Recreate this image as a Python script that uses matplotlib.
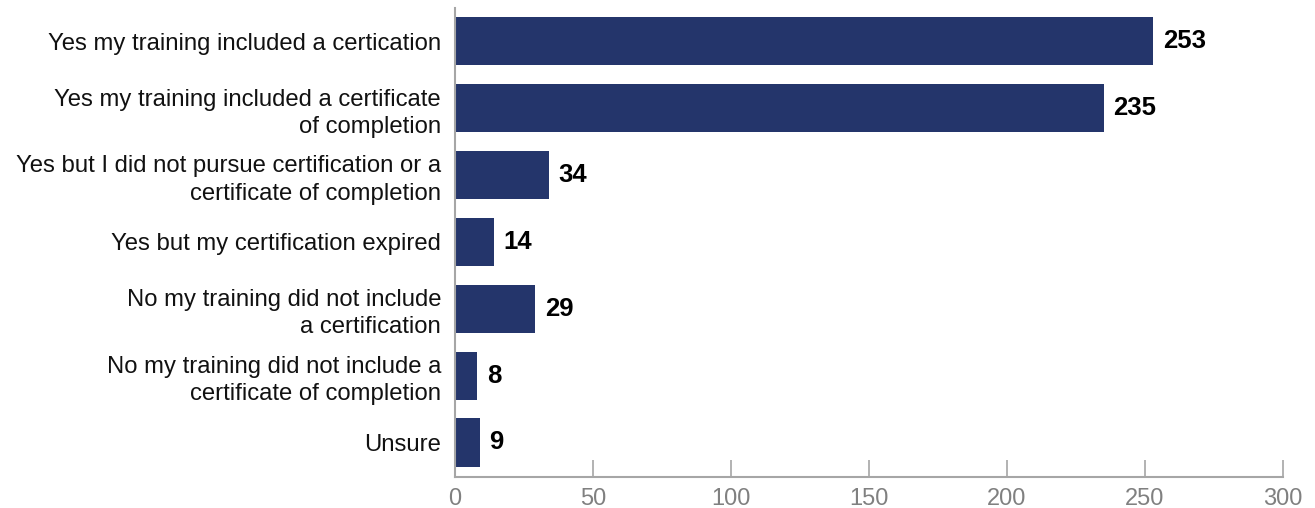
import matplotlib.pyplot as plt

categories = [
    "Yes my training included a certication",
    "Yes my training included a certificate\nof completion",
    "Yes but I did not pursue certification or a\ncertificate of completion",
    "Yes but my certification expired",
    "No my training did not include\na certification",
    "No my training did not include a\ncertificate of completion",
    "Unsure",
]
counts = [253, 235, 34, 14, 29, 8, 9]
x_ticks = [0, 50, 100, 150, 200, 250, 300]

plt.rcParams["font.family"] = ["Liberation Sans", "DejaVu Sans"]

fig = plt.figure(figsize=(13.15, 5.08), dpi=100)
ax = fig.add_axes([0.346, 0.061, 0.6297, 0.923])

ypos = list(range(len(categories)))
bars = ax.barh(ypos, counts, height=0.72, color="#24356b")

# bold count next to the end of each bar
for y, v in zip(ypos, counts):
    ax.annotate(str(v), xy=(v, y), xytext=(7, 0), textcoords="offset points",
                va="center", ha="left", fontsize=18.5, fontweight="bold", color="black")

ax.set_xlim(0, 300)
ax.set_ylim(6.516, -0.493)
ax.set_xticks(x_ticks)
ax.set_yticks(ypos)
ax.set_yticklabels(categories, fontsize=17.2, linespacing=1.3, color="#111111")

ax.tick_params(axis="x", direction="in", length=12, width=1.2, color="#a6a6a6",
               labelcolor="#808080", labelsize=17, pad=8)
ax.tick_params(axis="y", length=0, pad=10)

for side in ["top", "right"]:
    ax.spines[side].set_visible(False)
for side in ["left", "bottom"]:
    ax.spines[side].set_color("#a6a6a6")
    ax.spines[side].set_linewidth(1.5)

fig.savefig("out.png", dpi=100)
